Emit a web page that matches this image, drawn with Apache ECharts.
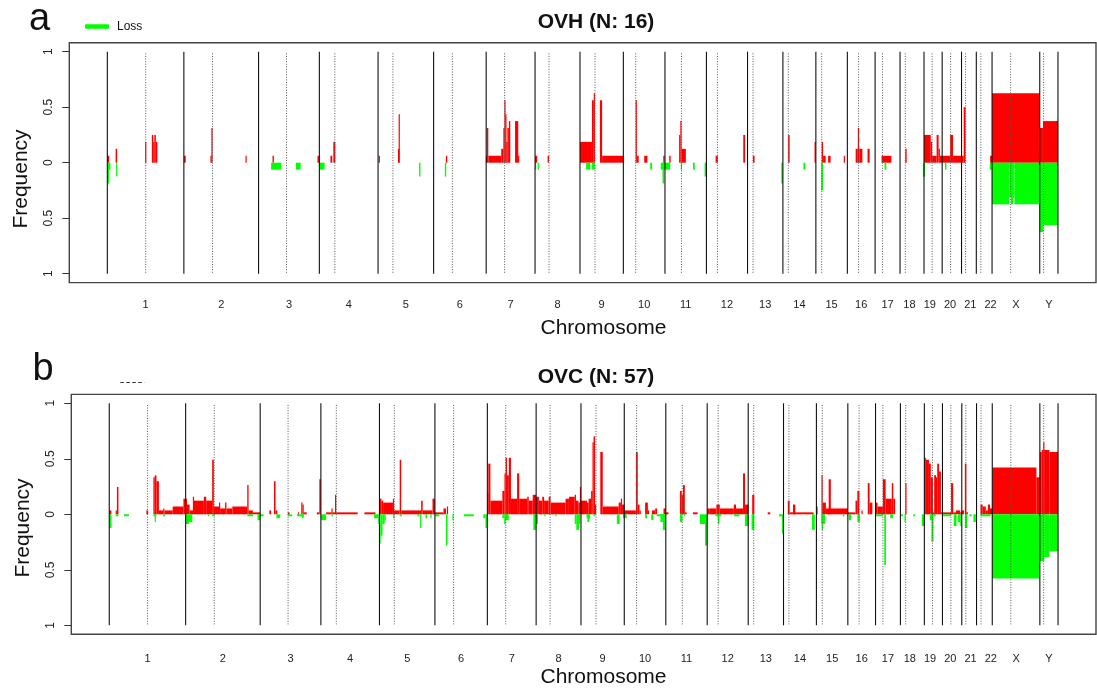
<!DOCTYPE html>
<html>
<head>
<meta charset="utf-8">
<script src="https://cdn.jsdelivr.net/npm/echarts@6/dist/echarts.min.js"></script>
<style>
  html, body { margin: 0; padding: 0; background: #fff; }
  #chart { width: 1097px; height: 691px; }
</style>
</head>
<body>
<div id="chart"></div>
<script>
// Genome layout (hg19, Mb)
const chromNames = ['1','2','3','4','5','6','7','8','9','10','11','12','13','14','15','16','17','18','19','20','21','22','X','Y'];
const chromLengthsMb = [249.25, 243.20, 198.02, 191.15, 180.92, 171.12, 159.14, 146.36, 141.21, 135.53, 135.01, 133.85,
                        115.17, 107.35, 102.53, 90.35, 81.20, 78.08, 59.13, 63.03, 48.13, 51.30, 155.27, 59.37];
const centromereMb = [125.0, 93.3, 91.0, 50.4, 48.4, 61.0, 59.9, 45.6, 49.0, 40.2, 53.7, 35.8,
                      17.9, 17.6, 19.0, 36.6, 24.0, 17.2, 26.5, 27.5, 13.2, 14.7, 60.6, 12.5];
const yTickValues = [-1, -0.5, 0, 0.5, 1];

// Cohort sizes
const ovhSamples = 16;
const ovcSamples = 57;

// Segments: [chromosome, start Mb, end Mb, number of samples]
const ovhGain = [
  ['1',0,6,1],['1',27,32,2],['1',123,127,3],['1',145,150,4],['1',150,153,3],['1',153,158,4],['1',158,163,3],
  ['2',0,6,1],['2',87,90,1],['2',90,93,5],['2',201,204,1],
  ['3',45.5,50,1],['3',192,197,1],
  ['4',36,42,1],['4',45.5,52,3],
  ['5',2,6,1],['5',65.5,68,2],['5',68,70,7],
  ['6',40,44.5,1],
  ['7',0,2,1],['7',2,7,5],['7',7,49,1],['7',49,56,2],['7',56,60,5],['7',60,62.5,9],['7',62.5,66,7],['7',66,69,3],
  ['7',69,74,5],['7',74,78.5,6],['7',94,104.5,6],['7',104.5,107,1],
  ['8',0,7,1],['8',41,45.5,1],
  ['9',0,39,3],['9',39,45,9],['9',45,48.5,10],['9',65,72,9],['9',72,141.2,1],
  ['10',40,44,9],['10',44,50,1],['10',68,78.5,1],['10',130,134.5,1],
  ['11',14,18.5,1],['11',46,50,4],['11',50,54,6],['11',54,68,2],
  ['12',30,37,1],['12',120,126,4],
  ['13',17.5,23,1],
  ['14',17,22,4],['14',104,106,3],
  ['15',19,23.5,3],['15',23.5,32,1],['15',40,48,1],['15',91,94.5,1],
  ['16',27,34,2],['16',34,38.7,5],['16',38.7,49,2],['16',65.7,72.7,2],
  ['17',21,53,1],
  ['18',17,21.6,2],
  ['19',0,22,4],['19',22,26.4,3],['19',26.4,41,1],['19',41,47.5,4],['19',47.5,51.7,2],['19',51.7,59.1,1],
  ['20',0,26,1],['20',26,35.5,4],['20',35.5,63,1],
  ['21',0,7,1],['21',7,13,8],
  ['22',45,51.3,1],
  ['X',0,155.27,10],
  ['Y',0,10.5,5],['Y',10.5,59.37,6]
];
const ovhLoss = [
  ['1',2,5,3],['1',5,10,1],['1',29,32,2],
  ['3',41,74,1],['3',122,137,1],
  ['4',0,17,1],
  ['5',133.5,138,2],
  ['6',36.5,41,2],
  ['8',0,3.5,1],['8',9,12,1],
  ['9',20,33.5,1],['9',38,48.5,1],
  ['10',87.5,93.5,1],['10',122,135.5,1],['10',127.5,133,3],
  ['11',0,17,1],['11',52,55,1],['11',91,97,1],['11',129,135,2],
  ['13',110,115,3],
  ['14',67,73,1],
  ['15',17.5,23.5,4],
  ['17',30.6,36.5,1],
  ['18',75,78,2],
  ['19',0,3,2],
  ['20',9,14,1],
  ['22',44,50,1],
  ['X',0,56,6],['X',56,61.7,5],['X',61.7,68.5,6],['X',68.5,73,5],['X',73,155.27,6],
  ['Y',0,11.6,10],['Y',11.6,59.37,9]
];
const ovcGain = [
  ['1',0,7,2],['1',21,25,2],['1',25,30,14],['1',121,127,2],['1',144,148.5,19],['1',148.5,154,20],['1',154,162,17],
  ['1',162,176,2],['1',176,180,3],['1',180,207,2],['1',207,242,4],['1',242,249.25,8],
  ['2',0,4.3,8],['2',4.3,13,5],['2',13,24,2],['2',24,27,9],['2',27,59.5,7],['2',59.5,67,9],['2',67,86.5,7],
  ['2',86.5,92,28],['2',92,109,4],['2',109,112.4,6],['2',112.4,128.6,3],['2',128.6,133,6],['2',133,152.4,3],
  ['2',152.4,201,4],['2',201,205.4,15],['2',205.4,219.4,2],['2',219.4,243.2,1],
  ['3',30,36,2],['3',45,50,17],['3',50,56,2],['3',90,96,1],['3',123,127,1],['3',134,138,6],['3',138,142,5],
  ['3',142,152,1],['3',185,193,1],['3',193,198,18],
  ['4',17,35,1],['4',35,38,3],['4',38,46,1],['4',46,50,10],['4',50,120,1],['4',142,178,1],
  ['5',0,6.5,8],['5',6.5,12,7],['5',12,44,6],['5',44,47.5,8],['5',47.5,66,2],['5',66,71,28],['5',71,136,2],
  ['5',136,141,7],['5',141,173,2],['5',173,180.92,8],
  ['6',0,28,1],['6',28,36,3],['6',39,43,4],
  ['7',0,3,11],['7',3,10,26],['7',10,49,7],['7',49,56,12],['7',56,59.6,21],['7',59.6,64,29],['7',64,70,20],
  ['7',70,77,29],['7',77,97,8],['7',97,104,21],['7',104,130,8],['7',130,135,9],['7',135,148,7],['7',148,159.14,10],
  ['8',0,9,9],['8',9,20,7],['8',20,26,9],['8',26,41,7],['8',41,47,9],['8',47,96,6],['8',96,107,8],['8',107,126,9],
  ['8',126,130,10],['8',130,138,7],['8',138,143,6],['8',143,146.36,14],
  ['9',0,19.5,7],['9',19.5,25,6],['9',25,33,8],['9',33,38,12],['9',38,41,37],['9',41,46,40],['9',46,49,5],
  ['9',63,71,32],['9',71,123,4],['9',123,130,6],['9',130,134,8],['9',134,141.21,5],
  ['10',0,38,2],['10',38,44,32],['10',44,50,5],['10',50,54,2],['10',68,77,6],['10',77,81,2],['10',90,101,2],
  ['10',101,107,3],['10',128,135.53,3],
  ['11',0,9,1],['11',46,52,12],['11',52,56,10],['11',56,62,15],['11',62,68,1],['11',88.5,104,1],
  ['12',0,8.5,3],['12',8.5,30,3],['12',30,41,5],['12',41,87,3],['12',87,94,5],['12',94,117,3],['12',117,123.5,21],
  ['12',123.5,133.85,5],
  ['13',13,20,10],['13',63.6,72,1],
  ['14',14,20,7],['14',20,98,1],['14',31,38.5,5],
  ['15',0,4,4],['15',17,20,20],['15',20,31,6],['15',31,102.53,3],['15',40,47,18],
  ['16',0,25,1],['16',25,31,7],['16',31,37.5,12],['16',45,48,2],['16',65,71,16],['16',71,80,6],
  ['17',0,6.5,6],['17',6.5,24,4],['17',24,33,18],['17',33,53,8],['17',53,58,16],['17',58,64,8],
  ['18',16,20,16],
  ['19',0,5,29],['19',5,15,28],['19',15,21,26],['19',21,28,19],['19',28,32,1],['19',32,38,20],['19',38,42,19],
  ['19',42,48,26],['19',48,54,22],['19',54,59.13,1],
  ['20',0,28,1],['20',28,35,16],['20',35,44,1],['20',44,58,2],['20',58,63,1],
  ['21',0,7,2],['21',10,15,26],['21',15,20,1],
  ['22',13,20,5],['22',20,30,4],['22',30,37,2],['22',37,44,5],['22',44,51.3,3],
  ['X',0,144,24],['X',144,155.27,19],
  ['Y',0,6,32],['Y',6,12,33],['Y',12,14,37],['Y',14,31,33],['Y',31,59.37,32]
];
const ovcLoss = [
  ['1',0,7,7],['1',21,30,1],['1',48,64.5,1],['1',144,154,1],['1',148.5,152,4],['1',176,183,1],
  ['2',0,11,5],['2',11,22,4],['2',73,76,1],['2',87,95,1],['2',201,220,1],['2',234.5,243.2,3],
  ['3',0,11,1],['3',53,65,2],['3',90,104,1],['3',120,142,1],['3',136,142,2],
  ['4',0,17,3],['4',35,40,1],['4',173,187,2],['4',187,191.15,5],
  ['5',0,4,15],['5',4,10,11],['5',10,17,5],['5',17,20,3],['5',44,49,2],['5',66,73,1],['5',124,130,1],
  ['5',133,136,7],['5',150,155,2],['5',166,170,2],
  ['6',0,14,1],['6',36,41,16],['6',57,61,3],['6',95,127,1],['6',158,165,2],['6',165,171.12,7],
  ['7',49,55,2],['7',55,60,5],['7',60,70,3],['7',150,159.14,8],
  ['8',0,6,5],['8',27,30,1],['8',63,67,1],['8',126,131,5],['8',131,140,8],['8',140,144,5],
  ['9',18,30,2],['9',21,27,4],['9',41,47,1],['9',117,126,5],['9',137,141.21,2],
  ['10',0,8,2],['10',68,74,2],['10',88,95,3],['10',106,135.53,1],['10',118,126,4],['10',126,135.53,8],
  ['11',46,54,4],['11',60,62,1],['11',111,128,5],['11',128,135,16],
  ['12',27,46,1],['12',35,40,5],['12',87,105,1],['12',123,133.85,6],
  ['13',11,20,8],['13',100,110,1],['13',110,115.17,10],
  ['14',93,102,8],
  ['15',16,28,5],['15',18,21,8],['15',86,91,1],
  ['16',3,11,3],['16',31,39,4],
  ['17',0,24,1],['17',28.5,34,26],['17',48,57,2],
  ['18',2,8,1],['18',13.5,17,4],['18',42,48,1],['18',70,78.08,6],
  ['19',18,29,3],['19',23,30,14],['19',30,37,1],
  ['20',0,28,1],['20',37,46,6],['20',51,58,4],['20',58,63.03,6],
  ['21',10,18,7],['21',25,32,1],['21',38,46,4],
  ['22',13,46,1],
  ['X',0,155.27,33],
  ['Y',0,14,24],['Y',14,31,22],['Y',31,59.37,19]
];

// ---- genome coordinates ----
const chromStart = {};
const boundaries = [];
let acc = 0;
chromNames.forEach((c, i) => { chromStart[c] = acc; boundaries.push(acc); acc += chromLengthsMb[i]; });
boundaries.push(acc);
const genomeTotal = acc;
const centromeres = chromNames.map((c, i) => chromStart[c] + centromereMb[i]);
const xMin = -0.04 * genomeTotal, xMax = genomeTotal * 1.04;

// label positions: chromosome midpoints, spread apart where they would crowd
function spreadLabels(pos, minGap) {
  let clusters = pos.map((p, i) => ({ first: i, n: 1, center: p }));
  let merged = true;
  while (merged) {
    merged = false;
    for (let k = 0; k < clusters.length - 1; k++) {
      const a = clusters[k], b = clusters[k + 1];
      const aEnd = a.center + (a.n - 1) / 2 * minGap;
      const bStart = b.center - (b.n - 1) / 2 * minGap;
      if (bStart - aEnd < minGap) {
        const n = a.n + b.n;
        clusters.splice(k, 2, { first: a.first, n, center: (a.center * a.n + b.center * b.n) / n });
        merged = true;
        break;
      }
    }
  }
  const out = [];
  clusters.forEach(c => { for (let j = 0; j < c.n; j++) out.push(c.center + (j - (c.n - 1) / 2) * minGap); });
  return out;
}
const labelAt = spreadLabels(chromNames.map((c, i) => chromStart[c] + chromLengthsMb[i] / 2), 66);
const labelName = new Map(labelAt.map((v, i) => [v.toFixed(3), chromNames[i]]));

const FONT = '"Liberation Sans", Arial, Helvetica, sans-serif';
const GAIN = '#ff0000', LOSS = '#00ff00';

function toRows(rows, n, sign) {
  return rows.map(r => [chromStart[r[0]] + r[1], chromStart[r[0]] + r[2], sign * r[3] / n]);
}

function segmentSeries(name, color, rows, gi) {
  return {
    type: 'custom', name, xAxisIndex: gi, yAxisIndex: gi, silent: true, z: 2,
    itemStyle: { color },
    data: rows,
    encode: { x: [0, 1], y: 2 },
    renderItem(params, api) {
      const p0 = api.coord([api.value(0), 0]);
      const p1 = api.coord([api.value(1), api.value(2)]);
      let x = Math.min(p0[0], p1[0]);
      let w = Math.abs(p1[0] - p0[0]);
      if (w < 1.2) { x -= (1.2 - w) / 2; w = 1.2; }
      return {
        type: 'rect',
        shape: { x, y: Math.min(p0[1], p1[1]), width: w, height: Math.abs(p1[1] - p0[1]) },
        style: { fill: color }
      };
    }
  };
}

function guideSeries(positions, gi, dotted) {
  return {
    type: 'custom', xAxisIndex: gi, yAxisIndex: gi, silent: true, z: 5,
    data: positions.map(p => [p, 0]),
    encode: { x: 0, y: 1 },
    renderItem(params, api) {
      const top = api.coord([api.value(0), dotted ? 0.985 : 1]);
      const bot = api.coord([api.value(0), -1]);
      return {
        type: 'line',
        shape: { x1: top[0], y1: top[1], x2: bot[0], y2: bot[1] },
        style: dotted ? { stroke: '#555', lineWidth: 1, lineDash: [1, 1.6] } : { stroke: '#111', lineWidth: 1.1 }
      };
    }
  };
}

function xAxisFor(gi, margin) {
  return {
    type: 'value', gridIndex: gi, min: xMin, max: xMax,
    axisLine: { show: false, onZero: false }, axisTick: { show: false }, splitLine: { show: false },
    axisLabel: {
      customValues: labelAt, margin, fontSize: 11, color: '#222', fontFamily: FONT,
      formatter: v => labelName.get(Number(v).toFixed(3)) || ''
    }
  };
}
function yAxisFor(gi) {
  return {
    type: 'value', gridIndex: gi, min: -1.08, max: 1.08, position: 'left',
    axisLine: { show: false, onZero: false }, splitLine: { show: false },
    axisTick: { show: true, customValues: yTickValues, length: 7, lineStyle: { color: '#333', width: 1 } },
    axisLabel: {
      customValues: yTickValues, rotate: 90, margin: 15, fontSize: 12, color: '#222', fontFamily: FONT,
      formatter: v => String(Math.abs(v))
    }
  };
}

function label(text, x, y, size, opts) {
  return Object.assign({
    type: 'text', x, y, silent: true,
    style: {
      text, font: (opts && opts.bold ? 'bold ' : '') + size + 'px ' + FONT, fill: '#111',
      textAlign: 'center', textVerticalAlign: 'middle', align: 'center', verticalAlign: 'middle'
    }
  }, opts && opts.rotation ? { rotation: opts.rotation } : {});
}

const chart = echarts.init(document.getElementById('chart'), null, { renderer: 'canvas' });
chart.setOption({
  animation: false,
  backgroundColor: '#fff',
  grid: [
    { left: 69.3, top: 42.8, width: 1026.7, height: 239.8, show: true, borderColor: '#444', borderWidth: 1.4, backgroundColor: 'transparent' },
    { left: 71.3, top: 394.4, width: 1024.7, height: 239.8, show: true, borderColor: '#444', borderWidth: 1.4, backgroundColor: 'transparent' }
  ],
  xAxis: [xAxisFor(0, 17), xAxisFor(1, 19)],
  yAxis: [yAxisFor(0), yAxisFor(1)],
  legend: {
    data: [{ name: 'Loss', icon: 'roundRect' }],
    left: 80, top: 15.5, itemWidth: 24, itemHeight: 4.5, selectedMode: false,
    textStyle: { fontSize: 12, color: '#111', fontFamily: FONT, padding: [0, 0, 0, 3] }
  },
  graphic: [
    label('a', 39.5, 20, 38),
    label('b', 43, 369.5, 38),
    label('OVH (N: 16)', 596, 22, 21, { bold: true }),
    label('OVC (N: 57)', 596, 377.5, 21, { bold: true }),
    label('Chromosome', 603.5, 328.5, 21),
    label('Chromosome', 603.5, 677.5, 21),
    label('Frequency', 21, 179, 21, { rotation: Math.PI / 2 }),
    label('Frequency', 23, 528, 21, { rotation: Math.PI / 2 }),
    { type: 'line', silent: true, shape: { x1: 120.3, y1: 382.5, x2: 144.5, y2: 382.5 },
      style: { stroke: '#333', lineWidth: 1, lineDash: [3.5, 2.5] } }
  ],
  series: [
    segmentSeries('Gain', GAIN, toRows(ovhGain, ovhSamples, 1), 0),
    segmentSeries('Loss', LOSS, toRows(ovhLoss, ovhSamples, -1), 0),
    guideSeries(boundaries, 0, false),
    guideSeries(centromeres, 0, true),
    segmentSeries('Gain', GAIN, toRows(ovcGain, ovcSamples, 1), 1),
    segmentSeries('Loss', LOSS, toRows(ovcLoss, ovcSamples, -1), 1),
    guideSeries(boundaries, 1, false),
    guideSeries(centromeres, 1, true)
  ]
});
</script>
</body>
</html>
